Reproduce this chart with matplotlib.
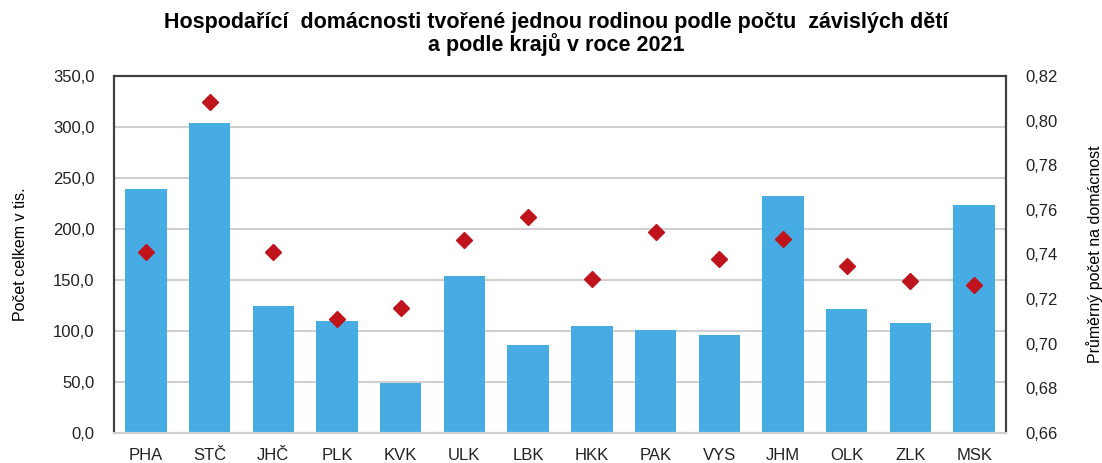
import numpy as np
import matplotlib.pyplot as plt
from matplotlib.ticker import FuncFormatter

# data
kraje = ['PHA', 'STČ', 'JHČ', 'PLK', 'KVK', 'ULK', 'LBK', 'HKK', 'PAK', 'VYS', 'JHM', 'OLK', 'ZLK', 'MSK']
pocet_tis = [238.8, 304.2, 124.6, 109.9, 49.4, 154.4, 86.0, 104.7, 101.4, 95.8, 232.2, 121.4, 107.6, 223.7]
prumer = [0.741, 0.8085, 0.741, 0.7113, 0.716, 0.7463, 0.7567, 0.7288, 0.7499, 0.7379, 0.7469, 0.7349, 0.728, 0.7265]

plt.rcParams['font.family'] = ['Liberation Sans', 'DejaVu Sans']

fig = plt.figure(figsize=(11.02, 4.63), dpi=100)
ax = fig.add_axes([114 / 1102, 1 - 433 / 463, (1006 - 114) / 1102, (433 - 76) / 463])
ax2 = ax.twinx()

x = np.arange(len(kraje))
ax.bar(x, pocet_tis, width=0.65, color='#48ACE4', zorder=2)
ax2.plot(x, prumer, linestyle='none', marker='D', markersize=8, color='#C0141C', zorder=3)

ax.set_xlim(-0.5, len(kraje) - 0.5)
ax.set_ylim(0, 350)
ax.set_yticks(np.arange(0, 351, 50))
ax2.set_ylim(0.66, 0.82)
ax2.set_yticks(np.arange(0.66, 0.8201, 0.02))

ax.yaxis.set_major_formatter(FuncFormatter(lambda v, p: f'{v:.1f}'.replace('.', ',')))
ax2.yaxis.set_major_formatter(FuncFormatter(lambda v, p: f'{v:.2f}'.replace('.', ',')))

ax.set_xticks(x)
ax.set_xticklabels(kraje)
ax.grid(axis='y', color='#D0D0D0', linewidth=1.5, zorder=0)
ax.set_axisbelow(True)

for a in (ax, ax2):
    a.tick_params(length=0, labelsize=12, colors='#222222')
    for s in ['left', 'top', 'right']:
        a.spines[s].set_color('#404040')
        a.spines[s].set_linewidth(1.5)
    a.spines['bottom'].set_color('#D0D0D0')
    a.spines['bottom'].set_linewidth(1.5)
ax.tick_params(axis='y', pad=14)
ax2.tick_params(axis='y', pad=14)
ax.tick_params(axis='x', pad=11)

ax.set_ylabel('Počet celkem v tis.', fontsize=11.5, labelpad=18)
ax2.set_ylabel('Průměrný počet na domácnost', fontsize=11.5, labelpad=20)

fig.suptitle('Hospodařící  domácnosti tvořené jednou rodinou podle počtu  závislých dětí\na podle krajů v roce 2021',
             x=0.505, y=0.975, fontsize=15.5, fontweight='bold', linespacing=1.05)

plt.savefig('out.png', dpi=100)
